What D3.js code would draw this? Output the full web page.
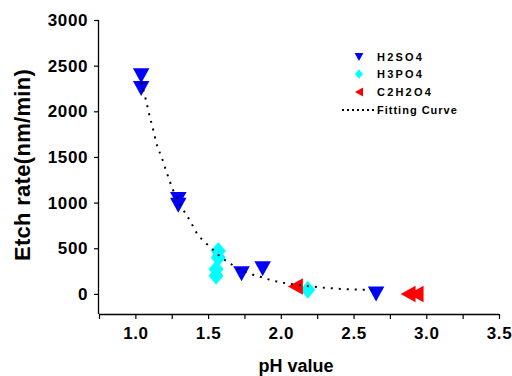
<!DOCTYPE html>
<html>
<head>
<meta charset="utf-8">
<script src="https://cdn.jsdelivr.net/npm/d3@7/dist/d3.min.js"></script>
<style>
  html, body { margin: 0; padding: 0; background: #fff; }
  svg { display: block; }
  text { font-family: Arial, "Liberation Sans", Helvetica, sans-serif; font-weight: bold; fill: #000; }
</style>
</head>
<body>
<script>
// ---- data ----
const h2so4X = [1.04, 1.04, 1.295, 1.295, 1.73, 1.875, 2.655];
const h2so4Y = [2390, 2250, 1035, 970, 220, 275, 0];

const h3po4X = [1.57, 1.57, 1.555, 1.555, 2.185];
const h3po4Y = [470, 400, 270, 200, 45];

const c2h2o4X = [2.10, 2.875, 2.93];
const c2h2o4Y = [80, 0, 0];

const fitX = [1.04, 1.07, 1.10, 1.12, 1.15, 1.18, 1.21, 1.26, 1.32, 1.38, 1.42, 1.48, 1.54, 1.59, 1.65, 1.70, 1.75, 1.81, 1.87, 1.92, 1.97, 2.03, 2.08, 2.14, 2.19, 2.25, 2.30, 2.36, 2.41, 2.46, 2.52, 2.57, 2.63];
const fitY = [2320, 2140, 1935, 1815, 1620, 1500, 1355, 1135, 945, 790, 670, 565, 475, 400, 335, 285, 245, 210, 182, 157, 137, 118, 106, 95, 85, 76, 67, 61, 55, 51, 48, 45, 43];

const xTicks = [0.75, 1.0, 1.25, 1.5, 1.75, 2.0, 2.25, 2.5, 2.75, 3.0, 3.25, 3.5];
const xTickLabels = ["", "1.0", "", "1.5", "", "2.0", "", "2.5", "", "3.0", "", "3.5"];
const yTicks = [0, 500, 1000, 1500, 2000, 2500, 3000];
const yTickLabels = ["0", "500", "1000", "1500", "2000", "2500", "3000"];

const legendNames = ["H2SO4", "H3PO4", "C2H2O4", "Fitting Curve"];
const xTitle = "pH value";
const yTitle = "Etch rate(nm/min)";

// ---- chart ----
const W = 512, H = 376;
const svg = d3.select("body").append("svg").attr("width", W).attr("height", H);

const x = d3.scaleLinear().domain([0.75, 3.5]).range([99, 499]);
const y = d3.scaleLinear().domain([-220, 3000]).range([314, 20]);

// axes
const xAxis = d3.axisBottom(x).tickValues(xTicks)
  .tickFormat((d, i) => xTickLabels[i]).tickSize(5).tickPadding(8);
const yAxis = d3.axisLeft(y).tickValues(yTicks)
  .tickFormat((d, i) => yTickLabels[i]).tickSize(5).tickPadding(6);

const gx = svg.append("g").attr("transform", `translate(0,${y.range()[0]})`).call(xAxis);
const gy = svg.append("g").attr("transform", `translate(${x.range()[0]},0)`).call(yAxis);
[gx, gy].forEach(g => {
  g.select(".domain").attr("stroke", "#000").attr("stroke-width", 1.3);
  g.selectAll(".tick line").attr("stroke", "#000").attr("stroke-width", 1.2);
  g.selectAll(".tick text").style("font-size", "17px").style("font-weight", "bold")
    .style("letter-spacing", "0.6px").attr("fill", "#000")
    .style("font-family", "Arial, 'Liberation Sans', sans-serif");
});
gx.select(".domain").attr("d", `M${x.range()[0]},0.5H${x.range()[1]}`);
gy.select(".domain").attr("d", `M-0.5,${y.range()[0]}V${y.range()[1]}`);

// axis titles
svg.append("text").attr("x", 296).attr("y", 372).attr("text-anchor", "middle")
  .style("font-size", "18px").text(xTitle);
svg.append("text").attr("transform", `translate(30,165) rotate(-90)`)
  .attr("text-anchor", "middle").style("font-size", "22px").style("letter-spacing", "0.3px").text(yTitle);

// symbols
function triDown(s) { const w = s * 0.55, h = s * 0.5; return `M${-w},${-h}L${w},${-h}L0,${h}Z`; }
function triLeft(s) { const w = s * 0.5, h = s * 0.55; return `M${w},${-h}L${w},${h}L${-w},0Z`; }
function diamond(s) { const w = s * 0.5, h = s * 0.6; return `M0,${-h}L${w},0L0,${h}L${-w},0Z`; }

const blue = "#0000ff", cyan = "#00ffff", red = "#ff0000";

svg.append("g").selectAll("path").data(h2so4X.map((d, i) => [d, h2so4Y[i]])).join("path")
  .attr("transform", d => `translate(${x(d[0])},${y(d[1])})`)
  .attr("d", triDown(15)).attr("fill", blue);

svg.append("g").selectAll("path").data(h3po4X.map((d, i) => [d, h3po4Y[i]])).join("path")
  .attr("transform", d => `translate(${x(d[0])},${y(d[1])})`)
  .attr("d", diamond(15)).attr("fill", cyan);

svg.append("g").selectAll("path").data(c2h2o4X.map((d, i) => [d, c2h2o4Y[i]])).join("path")
  .attr("transform", d => `translate(${x(d[0])},${y(d[1])})`)
  .attr("d", triLeft(15)).attr("fill", red);

// fitting curve (dotted)
const line = d3.line().x(d => x(d[0])).y(d => y(d[1])).curve(d3.curveMonotoneX);
svg.append("path").datum(fitX.map((d, i) => [d, fitY[i]]))
  .attr("d", line).attr("fill", "none").attr("stroke", "#000")
  .attr("stroke-width", 2).attr("stroke-dasharray", "2,6");

// legend
const lg = svg.append("g");
const rowsY = [57, 74, 92, 110];
const symX = 359, txtX = 377;
lg.append("path").attr("transform", `translate(${symX},${rowsY[0]})`).attr("d", triDown(8)).attr("fill", blue);
lg.append("path").attr("transform", `translate(${symX},${rowsY[1]})`).attr("d", diamond(8)).attr("fill", cyan);
lg.append("path").attr("transform", `translate(${symX},${rowsY[2]})`).attr("d", triLeft(8)).attr("fill", red);
lg.append("line").attr("x1", 342).attr("x2", 377).attr("y1", rowsY[3]).attr("y2", rowsY[3])
  .attr("stroke", "#000").attr("stroke-width", 2).attr("stroke-dasharray", "2,3");
legendNames.forEach((n, i) => {
  lg.append("text").attr("x", txtX).attr("y", rowsY[i] + 4)
    .style("font-size", "11px").style("letter-spacing", i < 3 ? "2.2px" : "1px").text(n);
});
</script>
</body>
</html>
